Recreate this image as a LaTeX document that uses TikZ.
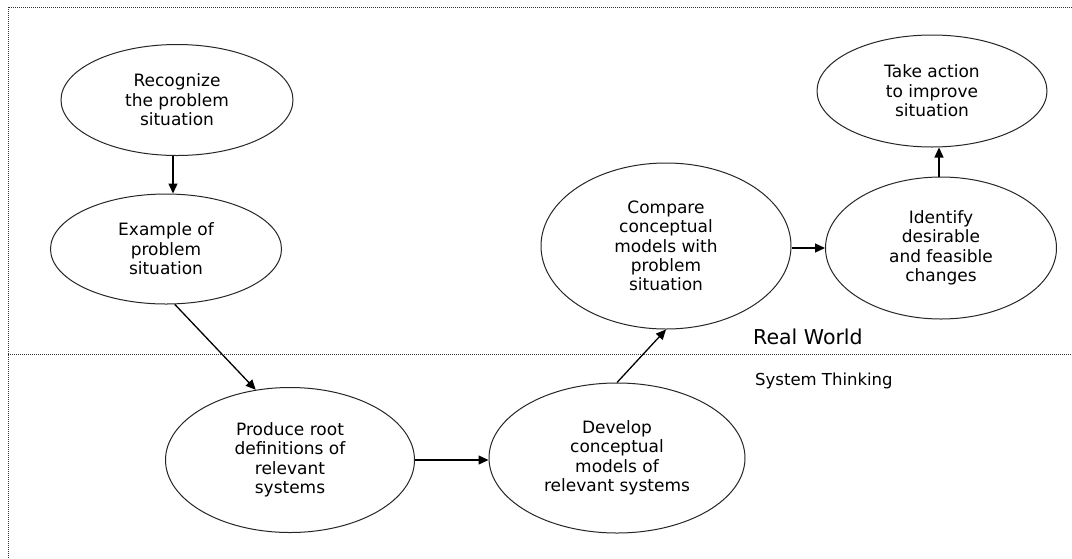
\documentclass[tikz,border=0pt]{standalone}
\usepackage{fontspec}
\setmainfont{DejaVu Sans}
\usetikzlibrary{shapes.geometric,arrows.meta}
\begin{document}
\begin{tikzpicture}[x=1pt,y=-1pt,
  stage/.style={draw=black!85,line width=1pt,ellipse,inner sep=0pt,align=center,
    font=\fontsize{17}{19.4}\selectfont},
  arr/.style={draw=black,line width=1.3pt,-{Triangle[length=10pt,width=9pt]}},
  frameline/.style={draw=black!80,line width=1pt,dash pattern=on 1pt off 1pt}]
\useasboundingbox[fill=white] (0,0) rectangle (1072,558);
% frame
\coordinate (tl) at (8,7);
\coordinate (tr) at (1072,7);
\coordinate (bl) at (8,558);
\coordinate (ml) at (8,354);
\coordinate (mr) at (1072,354);
\draw[frameline] (tr) -- (tl) -- (bl);
\draw[frameline] (ml) -- (mr);
% stages
\node[stage,minimum width=232pt,minimum height=111pt] (rec) at (177,100) {Recognize\\the problem\\situation};
\node[stage,minimum width=231pt,minimum height=110pt] (ex) at (166,249) {Example of\\problem\\situation};
\node[stage,minimum width=249pt,minimum height=145pt] (pr) at (290,460) {Produce root\\definitions of\\relevant\\systems};
\node[stage,minimum width=256pt,minimum height=150pt] (dv) at (617,458) {Develop\\conceptual\\models of\\relevant systems};
\node[stage,minimum width=250pt,minimum height=166pt] (cmp) at (666,246) {Compare\\conceptual\\models with\\problem\\situation};
\node[stage,minimum width=231pt,minimum height=142pt] (id) at (941,248) {Identify\\desirable\\and feasible\\changes};
\node[stage,minimum width=230pt,minimum height=112pt] (ta) at (932,91) {Take action\\to improve\\situation};
% labels
\node[anchor=base west,inner sep=0pt,font=\fontsize{20.5}{24}\selectfont] (rw) at (753,344) {Real World};
\node[anchor=base west,inner sep=0pt,font=\fontsize{16.5}{20}\selectfont] (st) at (755,385) {System Thinking};
% connectors
\draw[arr] ([xshift=-4pt]rec.south) -- ([xshift=-4pt]rec.south |- ex.north);
\draw[arr] (ex.-81) -- (pr.116);
\draw[arr] (pr.east) -- (pr.east -| dv.west);
\draw[arr] (dv.north) -- (cmp.south);
\draw[arr] (id.west -| cmp.east) -- (id.west);
\draw[arr] ([xshift=-2pt]id.north) -- ([xshift=-2pt]id.north |- ta.south);
\end{tikzpicture}
\end{document}
